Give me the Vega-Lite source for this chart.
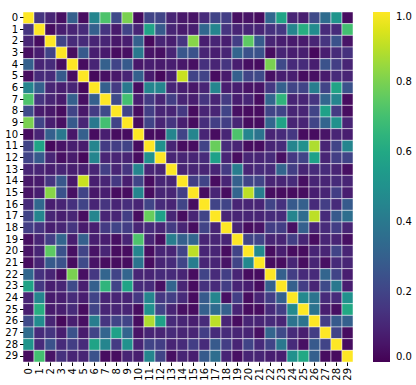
{
"$schema":"https://vega.github.io/schema/vega-lite/v6.json",
"width":330,"height":350,
"autosize":{"type":"none"},
"padding":{"left":23,"top":12,"right":63,"bottom":23},
"background":"white",
"data":{"values":[
{"r":0,"c":0,"v":1},{"r":0,"c":1,"v":0.15},{"r":0,"c":2,"v":0.1},{"r":0,"c":3,"v":0.04},{"r":0,"c":4,"v":0.3},{"r":0,"c":5,"v":0.03},{"r":0,"c":6,"v":0.45},{"r":0,"c":7,"v":0.72},{"r":0,"c":8,"v":0.22},{"r":0,"c":9,"v":0.8},{"r":0,"c":10,"v":0.03},{"r":0,"c":11,"v":0.2},{"r":0,"c":12,"v":0.2},{"r":0,"c":13,"v":0.1},{"r":0,"c":14,"v":0.06},{"r":0,"c":15,"v":0.05},{"r":0,"c":16,"v":0.12},{"r":0,"c":17,"v":0.2},{"r":0,"c":18,"v":0.18},{"r":0,"c":19,"v":0.04},{"r":0,"c":20,"v":0.05},{"r":0,"c":21,"v":0.03},{"r":0,"c":22,"v":0.33},{"r":0,"c":23,"v":0.58},{"r":0,"c":24,"v":0.1},{"r":0,"c":25,"v":0.08},{"r":0,"c":26,"v":0.22},{"r":0,"c":27,"v":0.35},{"r":0,"c":28,"v":0.52},{"r":0,"c":29,"v":0.03},
{"r":1,"c":0,"v":0.15},{"r":1,"c":1,"v":1},{"r":1,"c":2,"v":0.03},{"r":1,"c":3,"v":0.08},{"r":1,"c":4,"v":0.1},{"r":1,"c":5,"v":0.12},{"r":1,"c":6,"v":0.3},{"r":1,"c":7,"v":0.15},{"r":1,"c":8,"v":0.07},{"r":1,"c":9,"v":0.2},{"r":1,"c":10,"v":0.1},{"r":1,"c":11,"v":0.58},{"r":1,"c":12,"v":0.28},{"r":1,"c":13,"v":0.1},{"r":1,"c":14,"v":0.07},{"r":1,"c":15,"v":0.08},{"r":1,"c":16,"v":0.33},{"r":1,"c":17,"v":0.45},{"r":1,"c":18,"v":0.15},{"r":1,"c":19,"v":0.1},{"r":1,"c":20,"v":0.1},{"r":1,"c":21,"v":0.1},{"r":1,"c":22,"v":0.14},{"r":1,"c":23,"v":0.16},{"r":1,"c":24,"v":0.45},{"r":1,"c":25,"v":0.62},{"r":1,"c":26,"v":0.48},{"r":1,"c":27,"v":0.12},{"r":1,"c":28,"v":0.12},{"r":1,"c":29,"v":0.7},
{"r":2,"c":0,"v":0.1},{"r":2,"c":1,"v":0.03},{"r":2,"c":2,"v":1},{"r":2,"c":3,"v":0.2},{"r":2,"c":4,"v":0.12},{"r":2,"c":5,"v":0.12},{"r":2,"c":6,"v":0.1},{"r":2,"c":7,"v":0.1},{"r":2,"c":8,"v":0.06},{"r":2,"c":9,"v":0.08},{"r":2,"c":10,"v":0.3},{"r":2,"c":11,"v":0.02},{"r":2,"c":12,"v":0.1},{"r":2,"c":13,"v":0.08},{"r":2,"c":14,"v":0.15},{"r":2,"c":15,"v":0.82},{"r":2,"c":16,"v":0.08},{"r":2,"c":17,"v":0.1},{"r":2,"c":18,"v":0.08},{"r":2,"c":19,"v":0.18},{"r":2,"c":20,"v":0.75},{"r":2,"c":21,"v":0.28},{"r":2,"c":22,"v":0.1},{"r":2,"c":23,"v":0.08},{"r":2,"c":24,"v":0.07},{"r":2,"c":25,"v":0.07},{"r":2,"c":26,"v":0.1},{"r":2,"c":27,"v":0.15},{"r":2,"c":28,"v":0.25},{"r":2,"c":29,"v":0.05},
{"r":3,"c":0,"v":0.04},{"r":3,"c":1,"v":0.08},{"r":3,"c":2,"v":0.2},{"r":3,"c":3,"v":1},{"r":3,"c":4,"v":0.03},{"r":3,"c":5,"v":0.28},{"r":3,"c":6,"v":0.08},{"r":3,"c":7,"v":0.07},{"r":3,"c":8,"v":0.03},{"r":3,"c":9,"v":0.04},{"r":3,"c":10,"v":0.4},{"r":3,"c":11,"v":0.05},{"r":3,"c":12,"v":0.04},{"r":3,"c":13,"v":0.1},{"r":3,"c":14,"v":0.27},{"r":3,"c":15,"v":0.25},{"r":3,"c":16,"v":0.1},{"r":3,"c":17,"v":0.08},{"r":3,"c":18,"v":0.1},{"r":3,"c":19,"v":0.32},{"r":3,"c":20,"v":0.25},{"r":3,"c":21,"v":0.25},{"r":3,"c":22,"v":0.03},{"r":3,"c":23,"v":0.1},{"r":3,"c":24,"v":0.08},{"r":3,"c":25,"v":0.08},{"r":3,"c":26,"v":0.02},{"r":3,"c":27,"v":0.08},{"r":3,"c":28,"v":0.12},{"r":3,"c":29,"v":0.14},
{"r":4,"c":0,"v":0.3},{"r":4,"c":1,"v":0.1},{"r":4,"c":2,"v":0.12},{"r":4,"c":3,"v":0.03},{"r":4,"c":4,"v":1},{"r":4,"c":5,"v":0.03},{"r":4,"c":6,"v":0.1},{"r":4,"c":7,"v":0.3},{"r":4,"c":8,"v":0.2},{"r":4,"c":9,"v":0.28},{"r":4,"c":10,"v":0.06},{"r":4,"c":11,"v":0.08},{"r":4,"c":12,"v":0.07},{"r":4,"c":13,"v":0.08},{"r":4,"c":14,"v":0.06},{"r":4,"c":15,"v":0.04},{"r":4,"c":16,"v":0.14},{"r":4,"c":17,"v":0.1},{"r":4,"c":18,"v":0.15},{"r":4,"c":19,"v":0.08},{"r":4,"c":20,"v":0.04},{"r":4,"c":21,"v":0.03},{"r":4,"c":22,"v":0.8},{"r":4,"c":23,"v":0.22},{"r":4,"c":24,"v":0.12},{"r":4,"c":25,"v":0.12},{"r":4,"c":26,"v":0.08},{"r":4,"c":27,"v":0.25},{"r":4,"c":28,"v":0.18},{"r":4,"c":29,"v":0.1},
{"r":5,"c":0,"v":0.03},{"r":5,"c":1,"v":0.12},{"r":5,"c":2,"v":0.12},{"r":5,"c":3,"v":0.28},{"r":5,"c":4,"v":0.03},{"r":5,"c":5,"v":1},{"r":5,"c":6,"v":0.02},{"r":5,"c":7,"v":0.04},{"r":5,"c":8,"v":0.06},{"r":5,"c":9,"v":0.1},{"r":5,"c":10,"v":0.3},{"r":5,"c":11,"v":0.07},{"r":5,"c":12,"v":0.02},{"r":5,"c":13,"v":0.08},{"r":5,"c":14,"v":0.92},{"r":5,"c":15,"v":0.2},{"r":5,"c":16,"v":0.2},{"r":5,"c":17,"v":0.03},{"r":5,"c":18,"v":0.07},{"r":5,"c":19,"v":0.3},{"r":5,"c":20,"v":0.2},{"r":5,"c":21,"v":0.22},{"r":5,"c":22,"v":0.04},{"r":5,"c":23,"v":0.08},{"r":5,"c":24,"v":0.08},{"r":5,"c":25,"v":0.03},{"r":5,"c":26,"v":0.04},{"r":5,"c":27,"v":0.07},{"r":5,"c":28,"v":0.12},{"r":5,"c":29,"v":0.1},
{"r":6,"c":0,"v":0.45},{"r":6,"c":1,"v":0.3},{"r":6,"c":2,"v":0.1},{"r":6,"c":3,"v":0.08},{"r":6,"c":4,"v":0.1},{"r":6,"c":5,"v":0.02},{"r":6,"c":6,"v":1},{"r":6,"c":7,"v":0.3},{"r":6,"c":8,"v":0.17},{"r":6,"c":9,"v":0.4},{"r":6,"c":10,"v":0.03},{"r":6,"c":11,"v":0.45},{"r":6,"c":12,"v":0.45},{"r":6,"c":13,"v":0.1},{"r":6,"c":14,"v":0.08},{"r":6,"c":15,"v":0.06},{"r":6,"c":16,"v":0.1},{"r":6,"c":17,"v":0.45},{"r":6,"c":18,"v":0.08},{"r":6,"c":19,"v":0.08},{"r":6,"c":20,"v":0.05},{"r":6,"c":21,"v":0.05},{"r":6,"c":22,"v":0.16},{"r":6,"c":23,"v":0.3},{"r":6,"c":24,"v":0.2},{"r":6,"c":25,"v":0.2},{"r":6,"c":26,"v":0.42},{"r":6,"c":27,"v":0.2},{"r":6,"c":28,"v":0.58},{"r":6,"c":29,"v":0.25},
{"r":7,"c":0,"v":0.72},{"r":7,"c":1,"v":0.15},{"r":7,"c":2,"v":0.1},{"r":7,"c":3,"v":0.07},{"r":7,"c":4,"v":0.3},{"r":7,"c":5,"v":0.04},{"r":7,"c":6,"v":0.3},{"r":7,"c":7,"v":1},{"r":7,"c":8,"v":0.22},{"r":7,"c":9,"v":0.7},{"r":7,"c":10,"v":0.08},{"r":7,"c":11,"v":0.17},{"r":7,"c":12,"v":0.1},{"r":7,"c":13,"v":0.18},{"r":7,"c":14,"v":0.1},{"r":7,"c":15,"v":0.08},{"r":7,"c":16,"v":0.15},{"r":7,"c":17,"v":0.1},{"r":7,"c":18,"v":0.17},{"r":7,"c":19,"v":0.08},{"r":7,"c":20,"v":0.1},{"r":7,"c":21,"v":0.03},{"r":7,"c":22,"v":0.32},{"r":7,"c":23,"v":0.65},{"r":7,"c":24,"v":0.1},{"r":7,"c":25,"v":0.1},{"r":7,"c":26,"v":0.15},{"r":7,"c":27,"v":0.32},{"r":7,"c":28,"v":0.45},{"r":7,"c":29,"v":0.03},
{"r":8,"c":0,"v":0.22},{"r":8,"c":1,"v":0.07},{"r":8,"c":2,"v":0.06},{"r":8,"c":3,"v":0.03},{"r":8,"c":4,"v":0.2},{"r":8,"c":5,"v":0.06},{"r":8,"c":6,"v":0.17},{"r":8,"c":7,"v":0.22},{"r":8,"c":8,"v":1},{"r":8,"c":9,"v":0.2},{"r":8,"c":10,"v":0.03},{"r":8,"c":11,"v":0.18},{"r":8,"c":12,"v":0.1},{"r":8,"c":13,"v":0.1},{"r":8,"c":14,"v":0.16},{"r":8,"c":15,"v":0.03},{"r":8,"c":16,"v":0.1},{"r":8,"c":17,"v":0.1},{"r":8,"c":18,"v":0.2},{"r":8,"c":19,"v":0.04},{"r":8,"c":20,"v":0.03},{"r":8,"c":21,"v":0.03},{"r":8,"c":22,"v":0.2},{"r":8,"c":23,"v":0.2},{"r":8,"c":24,"v":0.1},{"r":8,"c":25,"v":0.1},{"r":8,"c":26,"v":0.2},{"r":8,"c":27,"v":0.57},{"r":8,"c":28,"v":0.17},{"r":8,"c":29,"v":0.03},
{"r":9,"c":0,"v":0.8},{"r":9,"c":1,"v":0.2},{"r":9,"c":2,"v":0.08},{"r":9,"c":3,"v":0.04},{"r":9,"c":4,"v":0.28},{"r":9,"c":5,"v":0.1},{"r":9,"c":6,"v":0.4},{"r":9,"c":7,"v":0.7},{"r":9,"c":8,"v":0.2},{"r":9,"c":9,"v":1},{"r":9,"c":10,"v":0.03},{"r":9,"c":11,"v":0.2},{"r":9,"c":12,"v":0.1},{"r":9,"c":13,"v":0.15},{"r":9,"c":14,"v":0.08},{"r":9,"c":15,"v":0.03},{"r":9,"c":16,"v":0.13},{"r":9,"c":17,"v":0.18},{"r":9,"c":18,"v":0.18},{"r":9,"c":19,"v":0.1},{"r":9,"c":20,"v":0.03},{"r":9,"c":21,"v":0.03},{"r":9,"c":22,"v":0.32},{"r":9,"c":23,"v":0.58},{"r":9,"c":24,"v":0.1},{"r":9,"c":25,"v":0.1},{"r":9,"c":26,"v":0.2},{"r":9,"c":27,"v":0.32},{"r":9,"c":28,"v":0.5},{"r":9,"c":29,"v":0.1},
{"r":10,"c":0,"v":0.03},{"r":10,"c":1,"v":0.1},{"r":10,"c":2,"v":0.3},{"r":10,"c":3,"v":0.4},{"r":10,"c":4,"v":0.06},{"r":10,"c":5,"v":0.3},{"r":10,"c":6,"v":0.03},{"r":10,"c":7,"v":0.08},{"r":10,"c":8,"v":0.03},{"r":10,"c":9,"v":0.03},{"r":10,"c":10,"v":1},{"r":10,"c":11,"v":0.03},{"r":10,"c":12,"v":0.03},{"r":10,"c":13,"v":0.45},{"r":10,"c":14,"v":0.2},{"r":10,"c":15,"v":0.45},{"r":10,"c":16,"v":0.1},{"r":10,"c":17,"v":0.03},{"r":10,"c":18,"v":0.1},{"r":10,"c":19,"v":0.72},{"r":10,"c":20,"v":0.45},{"r":10,"c":21,"v":0.38},{"r":10,"c":22,"v":0.1},{"r":10,"c":23,"v":0.12},{"r":10,"c":24,"v":0.16},{"r":10,"c":25,"v":0.03},{"r":10,"c":26,"v":0.03},{"r":10,"c":27,"v":0.05},{"r":10,"c":28,"v":0.1},{"r":10,"c":29,"v":0.08},
{"r":11,"c":0,"v":0.2},{"r":11,"c":1,"v":0.58},{"r":11,"c":2,"v":0.02},{"r":11,"c":3,"v":0.05},{"r":11,"c":4,"v":0.08},{"r":11,"c":5,"v":0.07},{"r":11,"c":6,"v":0.45},{"r":11,"c":7,"v":0.17},{"r":11,"c":8,"v":0.18},{"r":11,"c":9,"v":0.2},{"r":11,"c":10,"v":0.03},{"r":11,"c":11,"v":1},{"r":11,"c":12,"v":0.5},{"r":11,"c":13,"v":0.1},{"r":11,"c":14,"v":0.03},{"r":11,"c":15,"v":0.03},{"r":11,"c":16,"v":0.2},{"r":11,"c":17,"v":0.77},{"r":11,"c":18,"v":0.12},{"r":11,"c":19,"v":0.1},{"r":11,"c":20,"v":0.03},{"r":11,"c":21,"v":0.03},{"r":11,"c":22,"v":0.1},{"r":11,"c":23,"v":0.12},{"r":11,"c":24,"v":0.45},{"r":11,"c":25,"v":0.5},{"r":11,"c":26,"v":0.88},{"r":11,"c":27,"v":0.1},{"r":11,"c":28,"v":0.2},{"r":11,"c":29,"v":0.45},
{"r":12,"c":0,"v":0.2},{"r":12,"c":1,"v":0.28},{"r":12,"c":2,"v":0.1},{"r":12,"c":3,"v":0.04},{"r":12,"c":4,"v":0.07},{"r":12,"c":5,"v":0.02},{"r":12,"c":6,"v":0.45},{"r":12,"c":7,"v":0.1},{"r":12,"c":8,"v":0.1},{"r":12,"c":9,"v":0.1},{"r":12,"c":10,"v":0.03},{"r":12,"c":11,"v":0.5},{"r":12,"c":12,"v":1},{"r":12,"c":13,"v":0.1},{"r":12,"c":14,"v":0.1},{"r":12,"c":15,"v":0.1},{"r":12,"c":16,"v":0.12},{"r":12,"c":17,"v":0.57},{"r":12,"c":18,"v":0.1},{"r":12,"c":19,"v":0.03},{"r":12,"c":20,"v":0.1},{"r":12,"c":21,"v":0.1},{"r":12,"c":22,"v":0.12},{"r":12,"c":23,"v":0.04},{"r":12,"c":24,"v":0.16},{"r":12,"c":25,"v":0.2},{"r":12,"c":26,"v":0.57},{"r":12,"c":27,"v":0.1},{"r":12,"c":28,"v":0.18},{"r":12,"c":29,"v":0.2},
{"r":13,"c":0,"v":0.1},{"r":13,"c":1,"v":0.1},{"r":13,"c":2,"v":0.08},{"r":13,"c":3,"v":0.1},{"r":13,"c":4,"v":0.08},{"r":13,"c":5,"v":0.08},{"r":13,"c":6,"v":0.1},{"r":13,"c":7,"v":0.18},{"r":13,"c":8,"v":0.1},{"r":13,"c":9,"v":0.15},{"r":13,"c":10,"v":0.45},{"r":13,"c":11,"v":0.1},{"r":13,"c":12,"v":0.1},{"r":13,"c":13,"v":1},{"r":13,"c":14,"v":0.1},{"r":13,"c":15,"v":0.1},{"r":13,"c":16,"v":0.1},{"r":13,"c":17,"v":0.1},{"r":13,"c":18,"v":0.17},{"r":13,"c":19,"v":0.42},{"r":13,"c":20,"v":0.1},{"r":13,"c":21,"v":0.12},{"r":13,"c":22,"v":0.12},{"r":13,"c":23,"v":0.32},{"r":13,"c":24,"v":0.18},{"r":13,"c":25,"v":0.1},{"r":13,"c":26,"v":0.12},{"r":13,"c":27,"v":0.12},{"r":13,"c":28,"v":0.1},{"r":13,"c":29,"v":0.04},
{"r":14,"c":0,"v":0.06},{"r":14,"c":1,"v":0.07},{"r":14,"c":2,"v":0.15},{"r":14,"c":3,"v":0.27},{"r":14,"c":4,"v":0.06},{"r":14,"c":5,"v":0.92},{"r":14,"c":6,"v":0.08},{"r":14,"c":7,"v":0.1},{"r":14,"c":8,"v":0.16},{"r":14,"c":9,"v":0.08},{"r":14,"c":10,"v":0.2},{"r":14,"c":11,"v":0.03},{"r":14,"c":12,"v":0.1},{"r":14,"c":13,"v":0.1},{"r":14,"c":14,"v":1},{"r":14,"c":15,"v":0.18},{"r":14,"c":16,"v":0.2},{"r":14,"c":17,"v":0.03},{"r":14,"c":18,"v":0.1},{"r":14,"c":19,"v":0.3},{"r":14,"c":20,"v":0.2},{"r":14,"c":21,"v":0.2},{"r":14,"c":22,"v":0.1},{"r":14,"c":23,"v":0.1},{"r":14,"c":24,"v":0.12},{"r":14,"c":25,"v":0.04},{"r":14,"c":26,"v":0.1},{"r":14,"c":27,"v":0.1},{"r":14,"c":28,"v":0.12},{"r":14,"c":29,"v":0.1},
{"r":15,"c":0,"v":0.05},{"r":15,"c":1,"v":0.08},{"r":15,"c":2,"v":0.82},{"r":15,"c":3,"v":0.25},{"r":15,"c":4,"v":0.04},{"r":15,"c":5,"v":0.2},{"r":15,"c":6,"v":0.06},{"r":15,"c":7,"v":0.08},{"r":15,"c":8,"v":0.03},{"r":15,"c":9,"v":0.03},{"r":15,"c":10,"v":0.45},{"r":15,"c":11,"v":0.03},{"r":15,"c":12,"v":0.1},{"r":15,"c":13,"v":0.1},{"r":15,"c":14,"v":0.18},{"r":15,"c":15,"v":1},{"r":15,"c":16,"v":0.03},{"r":15,"c":17,"v":0.1},{"r":15,"c":18,"v":0.03},{"r":15,"c":19,"v":0.32},{"r":15,"c":20,"v":0.9},{"r":15,"c":21,"v":0.42},{"r":15,"c":22,"v":0.03},{"r":15,"c":23,"v":0.03},{"r":15,"c":24,"v":0.03},{"r":15,"c":25,"v":0.03},{"r":15,"c":26,"v":0.08},{"r":15,"c":27,"v":0.1},{"r":15,"c":28,"v":0.18},{"r":15,"c":29,"v":0.08},
{"r":16,"c":0,"v":0.12},{"r":16,"c":1,"v":0.33},{"r":16,"c":2,"v":0.08},{"r":16,"c":3,"v":0.1},{"r":16,"c":4,"v":0.14},{"r":16,"c":5,"v":0.2},{"r":16,"c":6,"v":0.1},{"r":16,"c":7,"v":0.15},{"r":16,"c":8,"v":0.1},{"r":16,"c":9,"v":0.13},{"r":16,"c":10,"v":0.1},{"r":16,"c":11,"v":0.2},{"r":16,"c":12,"v":0.12},{"r":16,"c":13,"v":0.1},{"r":16,"c":14,"v":0.2},{"r":16,"c":15,"v":0.03},{"r":16,"c":16,"v":1},{"r":16,"c":17,"v":0.2},{"r":16,"c":18,"v":0.2},{"r":16,"c":19,"v":0.1},{"r":16,"c":20,"v":0.1},{"r":16,"c":21,"v":0.1},{"r":16,"c":22,"v":0.2},{"r":16,"c":23,"v":0.14},{"r":16,"c":24,"v":0.28},{"r":16,"c":25,"v":0.3},{"r":16,"c":26,"v":0.12},{"r":16,"c":27,"v":0.18},{"r":16,"c":28,"v":0.12},{"r":16,"c":29,"v":0.28},
{"r":17,"c":0,"v":0.2},{"r":17,"c":1,"v":0.45},{"r":17,"c":2,"v":0.1},{"r":17,"c":3,"v":0.08},{"r":17,"c":4,"v":0.1},{"r":17,"c":5,"v":0.03},{"r":17,"c":6,"v":0.45},{"r":17,"c":7,"v":0.1},{"r":17,"c":8,"v":0.1},{"r":17,"c":9,"v":0.18},{"r":17,"c":10,"v":0.03},{"r":17,"c":11,"v":0.77},{"r":17,"c":12,"v":0.57},{"r":17,"c":13,"v":0.1},{"r":17,"c":14,"v":0.03},{"r":17,"c":15,"v":0.1},{"r":17,"c":16,"v":0.2},{"r":17,"c":17,"v":1},{"r":17,"c":18,"v":0.1},{"r":17,"c":19,"v":0.1},{"r":17,"c":20,"v":0.1},{"r":17,"c":21,"v":0.1},{"r":17,"c":22,"v":0.12},{"r":17,"c":23,"v":0.12},{"r":17,"c":24,"v":0.45},{"r":17,"c":25,"v":0.35},{"r":17,"c":26,"v":0.9},{"r":17,"c":27,"v":0.12},{"r":17,"c":28,"v":0.28},{"r":17,"c":29,"v":0.36},
{"r":18,"c":0,"v":0.18},{"r":18,"c":1,"v":0.15},{"r":18,"c":2,"v":0.08},{"r":18,"c":3,"v":0.1},{"r":18,"c":4,"v":0.15},{"r":18,"c":5,"v":0.07},{"r":18,"c":6,"v":0.08},{"r":18,"c":7,"v":0.17},{"r":18,"c":8,"v":0.2},{"r":18,"c":9,"v":0.18},{"r":18,"c":10,"v":0.1},{"r":18,"c":11,"v":0.12},{"r":18,"c":12,"v":0.1},{"r":18,"c":13,"v":0.17},{"r":18,"c":14,"v":0.1},{"r":18,"c":15,"v":0.03},{"r":18,"c":16,"v":0.2},{"r":18,"c":17,"v":0.1},{"r":18,"c":18,"v":1},{"r":18,"c":19,"v":0.1},{"r":18,"c":20,"v":0.03},{"r":18,"c":21,"v":0.05},{"r":18,"c":22,"v":0.18},{"r":18,"c":23,"v":0.18},{"r":18,"c":24,"v":0.04},{"r":18,"c":25,"v":0.3},{"r":18,"c":26,"v":0.1},{"r":18,"c":27,"v":0.12},{"r":18,"c":28,"v":0.18},{"r":18,"c":29,"v":0.1},
{"r":19,"c":0,"v":0.04},{"r":19,"c":1,"v":0.1},{"r":19,"c":2,"v":0.18},{"r":19,"c":3,"v":0.32},{"r":19,"c":4,"v":0.08},{"r":19,"c":5,"v":0.3},{"r":19,"c":6,"v":0.08},{"r":19,"c":7,"v":0.08},{"r":19,"c":8,"v":0.04},{"r":19,"c":9,"v":0.1},{"r":19,"c":10,"v":0.72},{"r":19,"c":11,"v":0.1},{"r":19,"c":12,"v":0.03},{"r":19,"c":13,"v":0.42},{"r":19,"c":14,"v":0.3},{"r":19,"c":15,"v":0.32},{"r":19,"c":16,"v":0.1},{"r":19,"c":17,"v":0.1},{"r":19,"c":18,"v":0.1},{"r":19,"c":19,"v":1},{"r":19,"c":20,"v":0.2},{"r":19,"c":21,"v":0.2},{"r":19,"c":22,"v":0.1},{"r":19,"c":23,"v":0.1},{"r":19,"c":24,"v":0.18},{"r":19,"c":25,"v":0.1},{"r":19,"c":26,"v":0.03},{"r":19,"c":27,"v":0.1},{"r":19,"c":28,"v":0.1},{"r":19,"c":29,"v":0.04},
{"r":20,"c":0,"v":0.05},{"r":20,"c":1,"v":0.1},{"r":20,"c":2,"v":0.75},{"r":20,"c":3,"v":0.25},{"r":20,"c":4,"v":0.04},{"r":20,"c":5,"v":0.2},{"r":20,"c":6,"v":0.05},{"r":20,"c":7,"v":0.1},{"r":20,"c":8,"v":0.03},{"r":20,"c":9,"v":0.03},{"r":20,"c":10,"v":0.45},{"r":20,"c":11,"v":0.03},{"r":20,"c":12,"v":0.1},{"r":20,"c":13,"v":0.1},{"r":20,"c":14,"v":0.2},{"r":20,"c":15,"v":0.9},{"r":20,"c":16,"v":0.1},{"r":20,"c":17,"v":0.1},{"r":20,"c":18,"v":0.03},{"r":20,"c":19,"v":0.2},{"r":20,"c":20,"v":1},{"r":20,"c":21,"v":0.47},{"r":20,"c":22,"v":0.03},{"r":20,"c":23,"v":0.08},{"r":20,"c":24,"v":0.03},{"r":20,"c":25,"v":0.03},{"r":20,"c":26,"v":0.1},{"r":20,"c":27,"v":0.1},{"r":20,"c":28,"v":0.2},{"r":20,"c":29,"v":0.1},
{"r":21,"c":0,"v":0.03},{"r":21,"c":1,"v":0.1},{"r":21,"c":2,"v":0.28},{"r":21,"c":3,"v":0.25},{"r":21,"c":4,"v":0.03},{"r":21,"c":5,"v":0.22},{"r":21,"c":6,"v":0.05},{"r":21,"c":7,"v":0.03},{"r":21,"c":8,"v":0.03},{"r":21,"c":9,"v":0.03},{"r":21,"c":10,"v":0.38},{"r":21,"c":11,"v":0.03},{"r":21,"c":12,"v":0.1},{"r":21,"c":13,"v":0.12},{"r":21,"c":14,"v":0.2},{"r":21,"c":15,"v":0.42},{"r":21,"c":16,"v":0.1},{"r":21,"c":17,"v":0.1},{"r":21,"c":18,"v":0.05},{"r":21,"c":19,"v":0.2},{"r":21,"c":20,"v":0.47},{"r":21,"c":21,"v":1},{"r":21,"c":22,"v":0.03},{"r":21,"c":23,"v":0.03},{"r":21,"c":24,"v":0.1},{"r":21,"c":25,"v":0.03},{"r":21,"c":26,"v":0.1},{"r":21,"c":27,"v":0.04},{"r":21,"c":28,"v":0.12},{"r":21,"c":29,"v":0.1},
{"r":22,"c":0,"v":0.33},{"r":22,"c":1,"v":0.14},{"r":22,"c":2,"v":0.1},{"r":22,"c":3,"v":0.03},{"r":22,"c":4,"v":0.8},{"r":22,"c":5,"v":0.04},{"r":22,"c":6,"v":0.16},{"r":22,"c":7,"v":0.32},{"r":22,"c":8,"v":0.2},{"r":22,"c":9,"v":0.32},{"r":22,"c":10,"v":0.1},{"r":22,"c":11,"v":0.1},{"r":22,"c":12,"v":0.12},{"r":22,"c":13,"v":0.12},{"r":22,"c":14,"v":0.1},{"r":22,"c":15,"v":0.03},{"r":22,"c":16,"v":0.2},{"r":22,"c":17,"v":0.12},{"r":22,"c":18,"v":0.18},{"r":22,"c":19,"v":0.1},{"r":22,"c":20,"v":0.03},{"r":22,"c":21,"v":0.03},{"r":22,"c":22,"v":1},{"r":22,"c":23,"v":0.3},{"r":22,"c":24,"v":0.18},{"r":22,"c":25,"v":0.12},{"r":22,"c":26,"v":0.12},{"r":22,"c":27,"v":0.32},{"r":22,"c":28,"v":0.2},{"r":22,"c":29,"v":0.08},
{"r":23,"c":0,"v":0.58},{"r":23,"c":1,"v":0.16},{"r":23,"c":2,"v":0.08},{"r":23,"c":3,"v":0.1},{"r":23,"c":4,"v":0.22},{"r":23,"c":5,"v":0.08},{"r":23,"c":6,"v":0.3},{"r":23,"c":7,"v":0.65},{"r":23,"c":8,"v":0.2},{"r":23,"c":9,"v":0.58},{"r":23,"c":10,"v":0.12},{"r":23,"c":11,"v":0.12},{"r":23,"c":12,"v":0.04},{"r":23,"c":13,"v":0.32},{"r":23,"c":14,"v":0.1},{"r":23,"c":15,"v":0.03},{"r":23,"c":16,"v":0.14},{"r":23,"c":17,"v":0.12},{"r":23,"c":18,"v":0.18},{"r":23,"c":19,"v":0.1},{"r":23,"c":20,"v":0.08},{"r":23,"c":21,"v":0.03},{"r":23,"c":22,"v":0.3},{"r":23,"c":23,"v":1},{"r":23,"c":24,"v":0.3},{"r":23,"c":25,"v":0.18},{"r":23,"c":26,"v":0.1},{"r":23,"c":27,"v":0.22},{"r":23,"c":28,"v":0.4},{"r":23,"c":29,"v":0.08},
{"r":24,"c":0,"v":0.1},{"r":24,"c":1,"v":0.45},{"r":24,"c":2,"v":0.07},{"r":24,"c":3,"v":0.08},{"r":24,"c":4,"v":0.12},{"r":24,"c":5,"v":0.08},{"r":24,"c":6,"v":0.2},{"r":24,"c":7,"v":0.1},{"r":24,"c":8,"v":0.1},{"r":24,"c":9,"v":0.1},{"r":24,"c":10,"v":0.16},{"r":24,"c":11,"v":0.45},{"r":24,"c":12,"v":0.16},{"r":24,"c":13,"v":0.18},{"r":24,"c":14,"v":0.12},{"r":24,"c":15,"v":0.03},{"r":24,"c":16,"v":0.28},{"r":24,"c":17,"v":0.45},{"r":24,"c":18,"v":0.04},{"r":24,"c":19,"v":0.18},{"r":24,"c":20,"v":0.03},{"r":24,"c":21,"v":0.1},{"r":24,"c":22,"v":0.18},{"r":24,"c":23,"v":0.3},{"r":24,"c":24,"v":1},{"r":24,"c":25,"v":0.47},{"r":24,"c":26,"v":0.38},{"r":24,"c":27,"v":0.12},{"r":24,"c":28,"v":0.12},{"r":24,"c":29,"v":0.5},
{"r":25,"c":0,"v":0.08},{"r":25,"c":1,"v":0.62},{"r":25,"c":2,"v":0.07},{"r":25,"c":3,"v":0.08},{"r":25,"c":4,"v":0.12},{"r":25,"c":5,"v":0.03},{"r":25,"c":6,"v":0.2},{"r":25,"c":7,"v":0.1},{"r":25,"c":8,"v":0.1},{"r":25,"c":9,"v":0.1},{"r":25,"c":10,"v":0.03},{"r":25,"c":11,"v":0.5},{"r":25,"c":12,"v":0.2},{"r":25,"c":13,"v":0.1},{"r":25,"c":14,"v":0.04},{"r":25,"c":15,"v":0.03},{"r":25,"c":16,"v":0.3},{"r":25,"c":17,"v":0.35},{"r":25,"c":18,"v":0.3},{"r":25,"c":19,"v":0.1},{"r":25,"c":20,"v":0.03},{"r":25,"c":21,"v":0.03},{"r":25,"c":22,"v":0.12},{"r":25,"c":23,"v":0.18},{"r":25,"c":24,"v":0.47},{"r":25,"c":25,"v":1},{"r":25,"c":26,"v":0.38},{"r":25,"c":27,"v":0.08},{"r":25,"c":28,"v":0.04},{"r":25,"c":29,"v":0.6},
{"r":26,"c":0,"v":0.22},{"r":26,"c":1,"v":0.48},{"r":26,"c":2,"v":0.1},{"r":26,"c":3,"v":0.02},{"r":26,"c":4,"v":0.08},{"r":26,"c":5,"v":0.04},{"r":26,"c":6,"v":0.42},{"r":26,"c":7,"v":0.15},{"r":26,"c":8,"v":0.2},{"r":26,"c":9,"v":0.2},{"r":26,"c":10,"v":0.03},{"r":26,"c":11,"v":0.88},{"r":26,"c":12,"v":0.57},{"r":26,"c":13,"v":0.12},{"r":26,"c":14,"v":0.1},{"r":26,"c":15,"v":0.08},{"r":26,"c":16,"v":0.12},{"r":26,"c":17,"v":0.9},{"r":26,"c":18,"v":0.1},{"r":26,"c":19,"v":0.03},{"r":26,"c":20,"v":0.1},{"r":26,"c":21,"v":0.1},{"r":26,"c":22,"v":0.12},{"r":26,"c":23,"v":0.1},{"r":26,"c":24,"v":0.38},{"r":26,"c":25,"v":0.38},{"r":26,"c":26,"v":1},{"r":26,"c":27,"v":0.18},{"r":26,"c":28,"v":0.28},{"r":26,"c":29,"v":0.3},
{"r":27,"c":0,"v":0.35},{"r":27,"c":1,"v":0.12},{"r":27,"c":2,"v":0.15},{"r":27,"c":3,"v":0.08},{"r":27,"c":4,"v":0.25},{"r":27,"c":5,"v":0.07},{"r":27,"c":6,"v":0.2},{"r":27,"c":7,"v":0.32},{"r":27,"c":8,"v":0.57},{"r":27,"c":9,"v":0.32},{"r":27,"c":10,"v":0.05},{"r":27,"c":11,"v":0.1},{"r":27,"c":12,"v":0.1},{"r":27,"c":13,"v":0.12},{"r":27,"c":14,"v":0.1},{"r":27,"c":15,"v":0.1},{"r":27,"c":16,"v":0.18},{"r":27,"c":17,"v":0.12},{"r":27,"c":18,"v":0.12},{"r":27,"c":19,"v":0.1},{"r":27,"c":20,"v":0.1},{"r":27,"c":21,"v":0.04},{"r":27,"c":22,"v":0.32},{"r":27,"c":23,"v":0.22},{"r":27,"c":24,"v":0.12},{"r":27,"c":25,"v":0.08},{"r":27,"c":26,"v":0.18},{"r":27,"c":27,"v":1},{"r":27,"c":28,"v":0.2},{"r":27,"c":29,"v":0.03},
{"r":28,"c":0,"v":0.52},{"r":28,"c":1,"v":0.12},{"r":28,"c":2,"v":0.25},{"r":28,"c":3,"v":0.12},{"r":28,"c":4,"v":0.18},{"r":28,"c":5,"v":0.12},{"r":28,"c":6,"v":0.58},{"r":28,"c":7,"v":0.45},{"r":28,"c":8,"v":0.17},{"r":28,"c":9,"v":0.5},{"r":28,"c":10,"v":0.1},{"r":28,"c":11,"v":0.2},{"r":28,"c":12,"v":0.18},{"r":28,"c":13,"v":0.1},{"r":28,"c":14,"v":0.12},{"r":28,"c":15,"v":0.18},{"r":28,"c":16,"v":0.12},{"r":28,"c":17,"v":0.28},{"r":28,"c":18,"v":0.18},{"r":28,"c":19,"v":0.1},{"r":28,"c":20,"v":0.2},{"r":28,"c":21,"v":0.12},{"r":28,"c":22,"v":0.2},{"r":28,"c":23,"v":0.4},{"r":28,"c":24,"v":0.12},{"r":28,"c":25,"v":0.04},{"r":28,"c":26,"v":0.28},{"r":28,"c":27,"v":0.2},{"r":28,"c":28,"v":1},{"r":28,"c":29,"v":0.03},
{"r":29,"c":0,"v":0.03},{"r":29,"c":1,"v":0.7},{"r":29,"c":2,"v":0.05},{"r":29,"c":3,"v":0.14},{"r":29,"c":4,"v":0.1},{"r":29,"c":5,"v":0.1},{"r":29,"c":6,"v":0.25},{"r":29,"c":7,"v":0.03},{"r":29,"c":8,"v":0.03},{"r":29,"c":9,"v":0.1},{"r":29,"c":10,"v":0.08},{"r":29,"c":11,"v":0.45},{"r":29,"c":12,"v":0.2},{"r":29,"c":13,"v":0.04},{"r":29,"c":14,"v":0.1},{"r":29,"c":15,"v":0.08},{"r":29,"c":16,"v":0.28},{"r":29,"c":17,"v":0.36},{"r":29,"c":18,"v":0.1},{"r":29,"c":19,"v":0.04},{"r":29,"c":20,"v":0.1},{"r":29,"c":21,"v":0.1},{"r":29,"c":22,"v":0.08},{"r":29,"c":23,"v":0.08},{"r":29,"c":24,"v":0.5},{"r":29,"c":25,"v":0.6},{"r":29,"c":26,"v":0.3},{"r":29,"c":27,"v":0.03},{"r":29,"c":28,"v":0.03},{"r":29,"c":29,"v":1}
]},
"mark":{"type":"rect","stroke":"white","strokeWidth":0.6,"strokeOpacity":0.8},
"encoding":{
"x":{"field":"c","type":"ordinal","title":null,"scale":{"paddingInner":0,"paddingOuter":0},
"axis":{"labelAngle":-90,"labelFont":"DejaVu Sans","labelFontSize":10,"labelColor":"#000","domain":false,"tickColor":"#000","tickSize":3.5,"labelPadding":2,"labelBaseline":"middle","labelAlign":"right"}},
"y":{"field":"r","type":"ordinal","title":null,"scale":{"paddingInner":0,"paddingOuter":0},
"axis":{"labelFont":"DejaVu Sans","labelFontSize":10,"labelColor":"#000","domain":false,"tickColor":"#000","tickSize":3.5,"labelPadding":2}},
"color":{"field":"v","type":"quantitative","title":null,
"scale":{"scheme":"viridis","domain":[0,1]},
"legend":{"orient":"none","legendX":350,"legendY":0,"direction":"vertical","gradientLength":350,"gradientThickness":17,"gradientStrokeWidth":0,"values":[0,0.2,0.4,0.6,0.8,1],"format":".1f","labelFlush":false,"labelOverlap":false,"labelFont":"DejaVu Sans","labelFontSize":10,"labelColor":"#000","labelOffset":6}}
},
"config":{"view":{"stroke":null}}
}
